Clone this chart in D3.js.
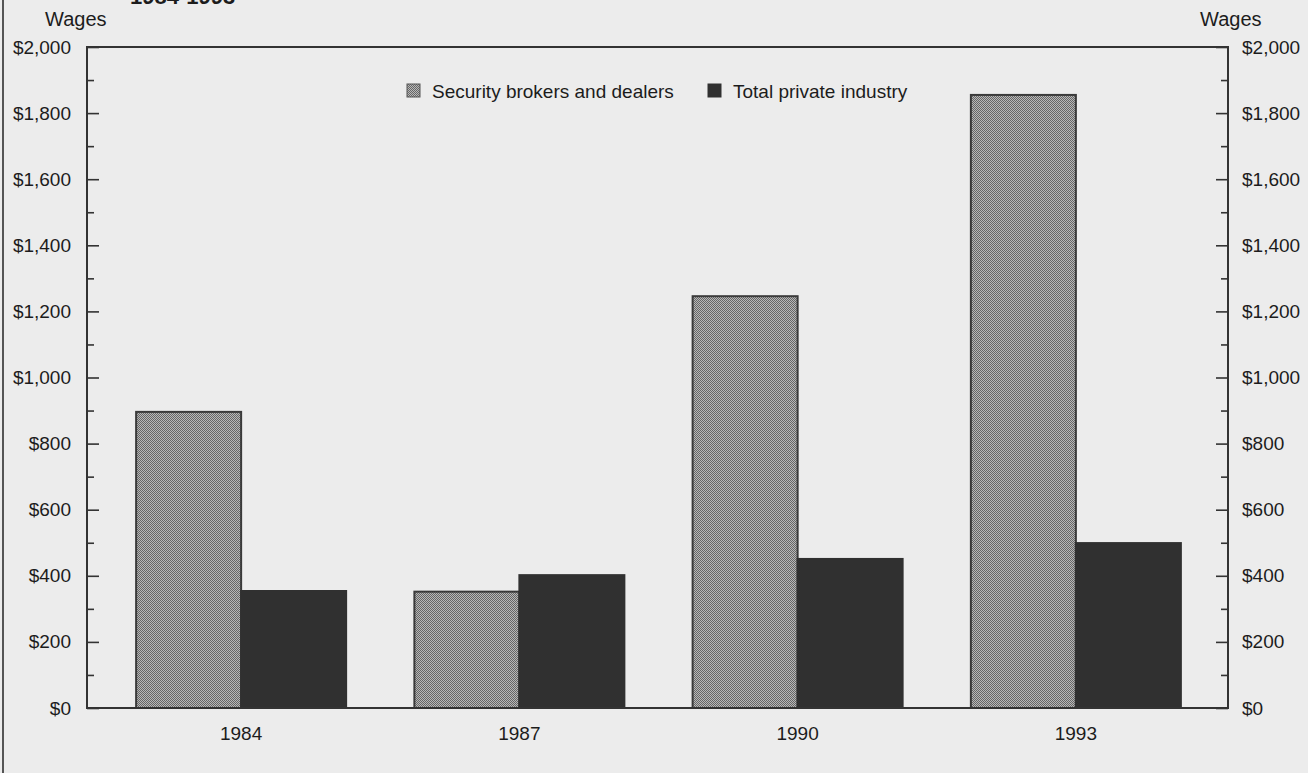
<!DOCTYPE html>
<html>
<head>
<meta charset="utf-8">
<script src="https://cdn.jsdelivr.net/npm/d3@7/dist/d3.min.js"></script>
<style>
  html, body { margin: 0; padding: 0; background: #ececec; }
  svg { display: block; }
  text { font-family: "Liberation Sans", Arial, Helvetica, sans-serif; fill: #1c1c1c; }
</style>
</head>
<body>
<svg id="chart" width="1308" height="773"></svg>
<script>
// Average weekly wages, 1984-1993
const categories = ["1984", "1987", "1990", "1993"];
const seriesNames = ["Security brokers and dealers", "Total private industry"];
const securityWages = [896, 352, 1246, 1855];
const privateWages = [354, 402, 451, 499];
const majorTicks = [0, 200, 400, 600, 800, 1000, 1200, 1400, 1600, 1800, 2000];
const minorTicks = [100, 300, 500, 700, 900, 1100, 1300, 1500, 1700, 1900];

const svg = d3.select("#chart");
const W = 1308, H = 773;
const plot = { left: 87, right: 1228, top: 47, bottom: 708 };

// checkered fill for the securities series
const defs = svg.append("defs");
const pat = defs.append("pattern")
  .attr("id", "checker").attr("width", 2).attr("height", 2)
  .attr("patternUnits", "userSpaceOnUse");
pat.append("rect").attr("width", 2).attr("height", 2).attr("fill", "#b8b8b8");
pat.append("rect").attr("width", 1).attr("height", 1).attr("fill", "#666");
pat.append("rect").attr("x", 1).attr("y", 1).attr("width", 1).attr("height", 1).attr("fill", "#666");

svg.append("rect").attr("width", W).attr("height", H).attr("fill", "#ececec");

// frame line at the left edge of the page
svg.append("line").attr("x1", 3).attr("x2", 3).attr("y1", 0).attr("y2", H)
  .attr("stroke", "#555").attr("stroke-width", 2);

// title (runs off the top edge)
svg.append("text").attr("x", 130).attr("y", 4)
  .attr("font-size", 22).attr("font-weight", "bold").text("1984-1993");

const y = d3.scaleLinear().domain([0, 2000]).range([plot.bottom, plot.top]);
const x = d3.scaleBand().domain(categories).range([102, 1215]).padding(0);
const groupWidth = 210;
const xs = d3.scaleBand().domain(seriesNames).range([0, groupWidth]).padding(0);
const groupOffset = (x.bandwidth() - groupWidth) / 2;

const fmt = d => "$" + d3.format(",")(d);

// bars
const seriesData = [securityWages, privateWages];
const fills = ["url(#checker)", "#303030"];
const strokes = ["#3a3a3a", "#303030"];
seriesNames.forEach((name, si) => {
  svg.append("g").selectAll("rect")
    .data(categories.map((c, i) => ({ c, v: seriesData[si][i] })))
    .join("rect")
    .attr("x", d => x(d.c) + groupOffset + xs(name))
    .attr("y", d => y(d.v))
    .attr("width", xs.bandwidth())
    .attr("height", d => y(0) - y(d.v))
    .attr("fill", fills[si])
    .attr("stroke", strokes[si])
    .attr("stroke-width", 2);
});

// plot frame
svg.append("rect")
  .attr("x", plot.left).attr("y", plot.top)
  .attr("width", plot.right - plot.left).attr("height", plot.bottom - plot.top)
  .attr("fill", "none").attr("stroke", "#333").attr("stroke-width", 2);

function styleAxis(g) {
  g.select(".domain").remove();
  g.selectAll(".tick line").attr("stroke", "#333").attr("stroke-width", 1.6);
  g.selectAll(".tick text").attr("font-size", 19).attr("fill", "#1c1c1c")
    .attr("font-family", "Liberation Sans, Arial, sans-serif");
}

// left axis
svg.append("g").attr("transform", `translate(${plot.left},0)`)
  .call(d3.axisLeft(y).tickValues(majorTicks).tickFormat(fmt).tickSizeInner(-12).tickSizeOuter(0).tickPadding(16))
  .call(styleAxis);
svg.append("g").attr("transform", `translate(${plot.left},0)`)
  .call(d3.axisLeft(y).tickValues(minorTicks).tickFormat("").tickSizeInner(-7).tickSizeOuter(0))
  .call(styleAxis);

// right axis
svg.append("g").attr("transform", `translate(${plot.right},0)`)
  .call(d3.axisRight(y).tickValues(majorTicks).tickFormat(fmt).tickSizeInner(-12).tickSizeOuter(0).tickPadding(14))
  .call(styleAxis);
svg.append("g").attr("transform", `translate(${plot.right},0)`)
  .call(d3.axisRight(y).tickValues(minorTicks).tickFormat("").tickSizeInner(-7).tickSizeOuter(0))
  .call(styleAxis);

// category labels
svg.append("g").selectAll("text")
  .data(categories).join("text")
  .attr("x", d => x(d) + x.bandwidth() / 2)
  .attr("y", 740)
  .attr("text-anchor", "middle")
  .attr("font-size", 19)
  .text(d => d);

// axis titles
svg.append("text").attr("x", 45).attr("y", 26).attr("font-size", 20).text("Wages");
svg.append("text").attr("x", 1200).attr("y", 26).attr("font-size", 20).text("Wages");

// legend
const legend = [
  { name: seriesNames[0], x: 407, fill: fills[0], stroke: "#555" },
  { name: seriesNames[1], x: 708, fill: fills[1], stroke: "#303030" }
];
const lg = svg.append("g");
legend.forEach(l => {
  lg.append("rect").attr("x", l.x).attr("y", 84).attr("width", 13).attr("height", 13)
    .attr("fill", l.fill).attr("stroke", l.stroke).attr("stroke-width", 1);
  lg.append("text").attr("x", l.x + 25).attr("y", 98).attr("font-size", 19).text(l.name);
});
</script>
</body>
</html>
